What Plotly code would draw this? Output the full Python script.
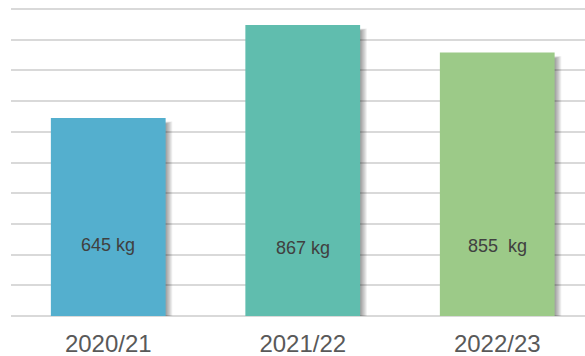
import plotly.graph_objects as go

categories = ["2020/21", "2021/22", "2022/23"]
bar_values = [645, 948, 858]
label_texts = ["645 kg", "867 kg", "855  kg"]
bar_colors = ["#54AFCE", "#60BDAE", "#9CCA88"]

W, H = 585, 356
ML, MR, MT, MB = 11, 0, 7, 40
y_max = 1000
px_per_unit = (H - MB - 9) / y_max
y_top = y_max + (9 - MT) / px_per_unit
plot_w = W - ML - MR
cat_px = 194.5
x_lo = -0.5
x_hi = x_lo + plot_w / cat_px
bw = 0.59
unit_per_px_x = 1 / cat_px

fig = go.Figure()

# soft shadow layers
for k in range(1, 7):
    dx = k * 1.1 * unit_per_px_x
    dy = (6 - k * 0.4) / px_per_unit
    fig.add_trace(go.Bar(
        x=categories,
        y=[v - dy + 2 / px_per_unit for v in bar_values],
        base=[-2 / px_per_unit] * len(bar_values),
        width=bw,
        offset=-bw / 2 + dx,
        marker=dict(color="rgba(0,0,0,0.07)", line=dict(width=0)),
        hoverinfo="skip",
        showlegend=False,
    ))

fig.add_trace(go.Bar(
    x=categories,
    y=bar_values,
    width=bw,
    offset=-bw / 2,
    marker=dict(color=bar_colors, line=dict(width=0)),
    showlegend=False,
))

label_y = [230, 220, 228]
for c, t, ly in zip(categories, label_texts, label_y):
    fig.add_annotation(x=c, y=ly, text=t, showarrow=False,
                       font=dict(family="Liberation Sans, Arial", size=18, color="#404040"))

fig.update_layout(
    width=W, height=H,
    margin=dict(l=ML, r=MR, t=MT, b=MB),
    paper_bgcolor="white", plot_bgcolor="white",
    barmode="overlay",
    xaxis=dict(range=[x_lo, x_hi], showgrid=False, zeroline=False, showline=False,
               ticks="outside", ticklen=6, tickcolor="rgba(0,0,0,0)",
               tickfont=dict(family="Liberation Sans, Arial", size=24, color="#595959")),
    yaxis=dict(range=[0, y_top], dtick=100, showgrid=True, gridcolor="#D9D9D9", gridwidth=2,
               showticklabels=False, zeroline=True, zerolinecolor="#D9D9D9", zerolinewidth=2,
               showline=False),
)

fig.write_html("out.html")
